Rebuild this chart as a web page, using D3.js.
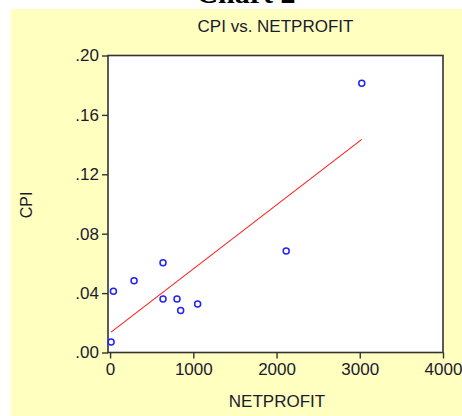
<!DOCTYPE html>
<html>
<head>
<meta charset="utf-8">
<script src="https://cdn.jsdelivr.net/npm/d3@7"></script>
<style>
  body { margin: 0; background: #fff; }
  text { font-family: "Liberation Sans", Arial, sans-serif; fill: #1a1a2e; }
</style>
</head>
<body>
<div id="container"></div>
<script>
 // data
 var netprofit = [12, 40, 288, 636, 636, 804, 848, 1052, 2116, 3024];
 var cpi = [0.0071, 0.0412, 0.0484, 0.0605, 0.036, 0.036, 0.0282, 0.0327, 0.0683, 0.1813];
 var xTicks = [0, 1000, 2000, 3000, 4000];
 var yTicks = [0, 0.04, 0.08, 0.12, 0.16, 0.20];

 var width = 462;
 var height = 416;

 var svg = d3.select("div#container").append("svg")
     .attr("width", width)
     .attr("height", height);

 // yellow panel
 svg.append("rect")
     .attr("x", 11).attr("y", 9)
     .attr("width", width - 11).attr("height", height - 9)
     .style("fill", "#ffffc0");

 // heading, cut off at the top like in the original
 svg.append("text")
     .attr("x", 246).attr("y", 3)
     .style("text-anchor", "middle")
     .style("font-family", "'Liberation Serif', serif")
     .style("font-weight", "bold")
     .style("font-size", "30px")
     .style("fill", "#000")
     .text("Chart 2");

 //----------------------------SCALES-----------------------------//
 var xScale = d3.scaleLinear().domain([-25, 4000]).range([108, 443]);
 var yScale = d3.scaleLinear().domain([0, 0.20]).range([352.5, 55.5]);

 // plot area
 svg.append("rect")
     .attr("x", 108).attr("y", 55.5)
     .attr("width", 335).attr("height", 297)
     .style("fill", "#fff")
     .style("stroke", "#333")
     .style("stroke-width", 1.6);

 //-----------------------------AXES------------------------------//
 var yaxis = d3.axisLeft(yScale)
     .tickValues(yTicks)
     .tickSize(6)
     .tickPadding(3)
     .tickFormat(function(d) { return d3.format(".2f")(d).replace(/^0/, ""); });

 var xaxis = d3.axisBottom(xScale)
     .tickValues(xTicks)
     .tickSize(6)
     .tickPadding(4)
     .tickFormat(d3.format("d"));

 var gy = svg.append("g")
     .attr("transform", "translate(108,0)")
     .call(yaxis);
 var gx = svg.append("g")
     .attr("transform", "translate(0,352.5)")
     .call(xaxis);

 [gx, gy].forEach(function(g) {
     g.select(".domain").remove();
     g.selectAll(".tick line").style("stroke", "#333").style("stroke-width", 1.4);
     g.selectAll(".tick text")
         .style("font-family", "'Liberation Sans', Arial, sans-serif")
         .style("font-size", "17px")
         .style("fill", "#1a1a2e");
 });

 //--------------------------REGRESSION---------------------------//
 var mx = d3.mean(netprofit), my = d3.mean(cpi);
 var sxy = d3.sum(netprofit, function(x, i) { return (x - mx) * (cpi[i] - my); });
 var sxx = d3.sum(netprofit, function(x) { return (x - mx) * (x - mx); });
 var slope = sxy / sxx, intercept = my - slope * mx;
 var ext = d3.extent(netprofit);

 var line = d3.line()
     .x(function(d) { return xScale(d); })
     .y(function(d) { return yScale(intercept + slope * d); });

 svg.append("path")
     .attr("d", line(ext))
     .style("fill", "none")
     .style("stroke", "#ff2020")
     .style("stroke-width", 1.1);

 //----------------------------POINTS-----------------------------//
 svg.selectAll("circle.pt")
     .data(netprofit)
     .enter()
     .append("circle")
     .attr("class", "pt")
     .attr("cx", function(d) { return xScale(d); })
     .attr("cy", function(d, i) { return yScale(cpi[i]); })
     .attr("r", 3)
     .style("fill", "none")
     .style("stroke", "#2020ff")
     .style("stroke-width", 1.5);

 //----------------------------TITLES-----------------------------//
 svg.append("text")
     .attr("x", 275.5).attr("y", 31.5)
     .style("text-anchor", "middle")
     .style("font-size", "17px")
     .text("CPI vs. NETPROFIT");

 svg.append("text")
     .attr("x", 277).attr("y", 407)
     .style("text-anchor", "middle")
     .style("font-size", "17px")
     .text("NETPROFIT");

 svg.append("text")
     .attr("transform", "translate(32,205) rotate(-90)")
     .style("text-anchor", "middle")
     .style("font-size", "16px")
     .text("CPI");
</script>
</body>
</html>
